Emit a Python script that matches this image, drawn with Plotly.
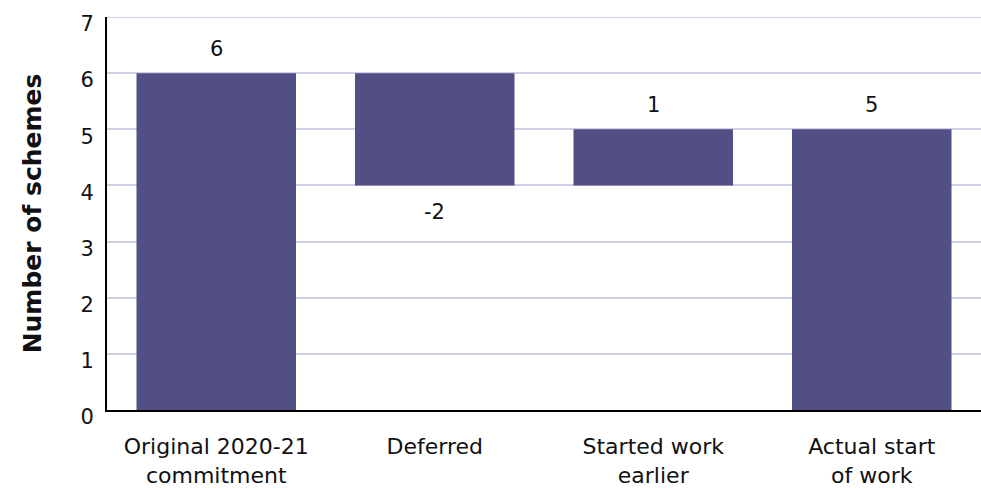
import plotly.graph_objects as go

categories = ["Original 2020-21<br>commitment", "Deferred", "Started work<br>earlier", "Actual start<br>of work"]
measures = ["absolute", "relative", "relative", "total"]
values = [6, -2, 1, 5]
y_ticks = [0, 1, 2, 3, 4, 5, 6, 7]

BAR = "#524F85"
GRID = "#CDD0E8"
FONT = "DejaVu Sans, sans-serif"

fig = go.Figure(go.Waterfall(
    x=categories,
    y=values,
    measure=measures,
    increasing=dict(marker=dict(color=BAR)),
    decreasing=dict(marker=dict(color=BAR)),
    totals=dict(marker=dict(color=BAR)),
    connector=dict(visible=False),
    width=0.73,
    hoverinfo="skip",
))

# value labels: above the bar end for rises/totals, below it for falls
running = 0
for cat, m, v in zip(categories, measures, values):
    if m == "absolute" or m == "total":
        running = v
        up = True
    else:
        running += v
        up = v >= 0
    fig.add_annotation(
        x=cat, y=running, text=str(v), showarrow=False,
        yshift=24 if up else -27,
        font=dict(size=21, color="#111111"),
    )

# plotly skips the gridline on the top edge, draw it by hand
fig.add_shape(type="line", xref="paper", x0=0, x1=1, yref="y",
              y0=y_ticks[-1], y1=y_ticks[-1],
              line=dict(color=GRID, width=2), layer="below")

fig.update_layout(
    width=981, height=490,
    margin=dict(l=107, r=0, t=17, b=80),
    plot_bgcolor="white",
    paper_bgcolor="white",
    showlegend=False,
    font=dict(family=FONT, size=21, color="#111111"),
    xaxis=dict(
        showline=True, linecolor="#000000", linewidth=2,
        showgrid=False, tickfont=dict(size=22),
        ticks="", ticklabelstandoff=16, automargin=False,
    ),
    yaxis=dict(
        range=[0, 7], tickvals=y_ticks,
        showgrid=True, gridcolor=GRID, gridwidth=2,
        showline=True, linecolor="#000000", linewidth=2,
        zeroline=False, ticks="", ticklabelstandoff=7,
        ticklabelshift=7, ticklabeloverflow="allow",
        tickfont=dict(size=21), automargin=False,
        title=dict(text="<b>Number of schemes</b>", font=dict(size=25), standoff=32),
    ),
)

# drop the default 8px body margin so the figure sits flush in the window
fig.write_html("out.html", config={"displayModeBar": False},
               post_script="document.body.style.margin='0';")
